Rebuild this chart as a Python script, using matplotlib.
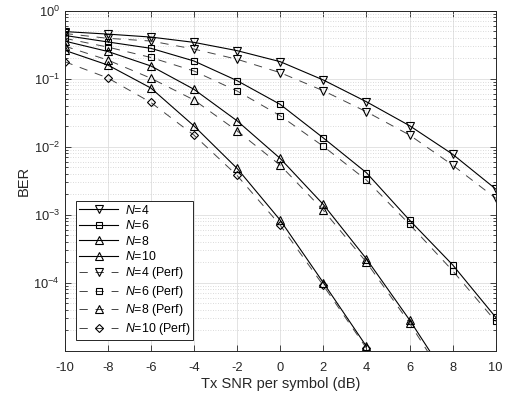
import matplotlib
matplotlib.use("Agg")
import matplotlib.pyplot as plt
from matplotlib.ticker import LogLocator, FixedLocator, NullFormatter

plt.rcParams['font.family'] = ['Liberation Sans', 'DejaVu Sans']
plt.rcParams['mathtext.fontset'] = 'custom'
plt.rcParams['mathtext.rm'] = 'Liberation Sans'
plt.rcParams['mathtext.it'] = 'Liberation Sans:italic'
plt.rcParams['axes.unicode_minus'] = False

# ---- data ----
snr = [-10, -8, -6, -4, -2, 0, 2, 4, 6, 8, 10]
snr_n8 = [-10, -8, -6, -4, -2, 0, 2, 4, 6, 8]
snr_n10 = [-10, -8, -6, -4, -2, 0, 2, 4]

ber_n4 = [0.49, 0.45, 0.407, 0.34, 0.257, 0.177, 0.0952, 0.0456, 0.0203, 0.00772, 0.00238]
ber_n6 = [0.43, 0.345, 0.278, 0.181, 0.0931, 0.0417, 0.0134, 0.00413, 8.3e-4, 1.83e-4, 3.1e-5]
ber_n8 = [0.355, 0.25, 0.153, 0.0694, 0.0239, 0.00669, 0.00141, 2.24e-4, 2.84e-5, 3.0e-6]
ber_n10 = [0.26, 0.158, 0.0725, 0.0201, 0.00478, 8.3e-4, 1.0e-4, 1.16e-5]

ber_n4_perf = [0.46, 0.39, 0.356, 0.271, 0.192, 0.122, 0.0662, 0.0325, 0.0148, 0.00534, 0.00174]
ber_n6_perf = [0.39, 0.29, 0.204, 0.129, 0.0656, 0.0284, 0.0101, 0.00322, 7.2e-4, 1.5e-4, 2.7e-5]
ber_n8_perf = [0.30, 0.187, 0.101, 0.0484, 0.0170, 0.00533, 0.00116, 2.0e-4, 2.55e-5, 2.6e-6]
ber_n10_perf = [0.177, 0.102, 0.0445, 0.0147, 0.00376, 7.0e-4, 9.1e-5, 1.09e-5]

labels = ['$N$=4', '$N$=6', '$N$=8', '$N$=10',
          '$N$=4 (Perf)', '$N$=6 (Perf)', '$N$=8 (Perf)', '$N$=10 (Perf)']

xticks = [-10, -8, -6, -4, -2, 0, 2, 4, 6, 8, 10]
yticks = [1e-4, 1e-3, 1e-2, 1e-1, 1e0]

# ---- figure ----
W, H = 511, 396
fig = plt.figure(figsize=(W / 100, H / 100), dpi=100)
ax_l, ax_r, ax_t, ax_b = 64.7, 495.7, 10.5, 350.7
ax = fig.add_axes([ax_l / W, 1 - ax_b / H, (ax_r - ax_l) / W, (ax_b - ax_t) / H])

axc = '#262626'
solid_kw = dict(color='black', lw=0.8, mfc='none', mec='black', mew=0.8)
dash_kw = dict(color='#444444', lw=0.7, mfc='none', mec='black', mew=0.8, dashes=(8.5, 8))

series = [
    (snr, ber_n4, 'v', 6, solid_kw),
    (snr, ber_n6, 's', 4.8, solid_kw),
    (snr_n8, ber_n8, '^', 6, solid_kw),
    (snr_n10, ber_n10, '^', 6, solid_kw),
    (snr, ber_n4_perf, 'v', 6, dash_kw),
    (snr, ber_n6_perf, 's', 4.8, dash_kw),
    (snr_n8, ber_n8_perf, '^', 6, dash_kw),
    (snr_n10, ber_n10_perf, 'D', 4.4, dash_kw),
]
handles = []
for (xs, ys, mk, ms, kw), lab in zip(series, labels):
    h, = ax.semilogy(xs, ys, marker=mk, ms=ms, label=lab, **kw)
    handles.append(h)

ax.set_xlim(-10, 10)
ax.set_ylim(1e-5, 1)
ax.xaxis.set_major_locator(FixedLocator(xticks))
ax.yaxis.set_major_locator(FixedLocator(yticks))
ax.yaxis.set_minor_locator(LogLocator(base=10, subs=range(2, 10), numticks=20))
ax.yaxis.set_minor_formatter(NullFormatter())

ax.grid(True, which='major', color='#dedede', lw=0.6, ls='-')
ax.grid(True, which='minor', axis='y', color='#cfcfcf', lw=0.6, ls=(0, (1, 2)))
ax.set_axisbelow(True)

ax.tick_params(which='both', direction='in', top=True, right=True, colors=axc,
               labelsize=9.3, width=0.6)
ax.tick_params(which='major', length=4)
ax.tick_params(which='minor', length=2.5)
ax.tick_params(axis='x', pad=8)
for s in ax.spines.values():
    s.set_color(axc)
    s.set_linewidth(0.7)

ax.set_xlabel('Tx SNR per symbol (dB)', fontsize=10.5, color=axc, labelpad=2)
ax.set_ylabel('BER', fontsize=10.5, color=axc, labelpad=2)

leg = ax.legend(handles=handles, loc='lower left',
                bbox_to_anchor=((75.7 - ax_l) / (ax_r - ax_l), (ax_b - 340) / (ax_b - ax_t)),
                borderaxespad=0, fontsize=8.9, handlelength=3.2, handletextpad=0.5,
                borderpad=0.25, labelspacing=0.2, fancybox=False, framealpha=1,
                edgecolor=axc)
leg.get_frame().set_linewidth(0.7)

fig.savefig('out.png', dpi=100)
